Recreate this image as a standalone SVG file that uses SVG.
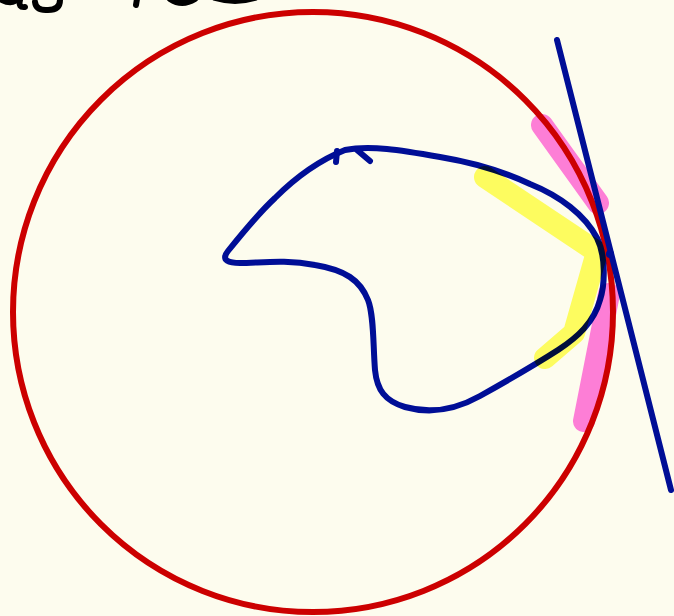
<svg xmlns="http://www.w3.org/2000/svg" width="674" height="616" viewBox="0 0 674 616">
<style>
.ink{fill:none;stroke-linecap:round;stroke-linejoin:round}
.blk{stroke:#000;stroke-width:6}
.red{stroke:#cc0000;stroke-width:6}
.blue{stroke:#000e96;stroke-width:6}
.hl{fill:none;stroke-linecap:round;stroke-linejoin:round;stroke-width:22;mix-blend-mode:multiply}
.yel{stroke:#ffff66}
.pink{stroke:#ff80e6}
</style>
<rect width="674" height="616" fill="#fdfcee"/>
<g id="handwriting-fragment">
<path class="ink blk" d="M2,0 Q10,4 15,1"/>
<path class="ink blk" d="M20,0 Q18,8 25,7"/>
<path class="ink blk" d="M35,2 Q36,11 48,10 Q60,10 60,0"/>
<path class="ink blk" d="M137,-1 L136,5"/>
<path class="ink blk" d="M170,-1 Q182,7 195,-1"/>
<path class="ink blk" d="M215,-2 Q235,4 255,-2"/>
</g>
<g id="circle">
<circle class="ink red" cx="313" cy="312" r="300"/>
</g>
<g id="curve">
<path class="ink blue" d="M345,150 C370,145 400,150 440,157 C470,162 500,170 530,184 C560,196 585,215 597,238 C606,256 605,285 600,300 C594,322 578,337 558,350 C530,368 505,382 480,396 C455,410 430,414 405,407 C385,401 377,390 375,370 C373,345 374,315 368,300 C360,280 345,270 315,265 C285,259 260,263 240,263 C230,263 220,261 228,251 C240,236 260,212 275,198 C295,178 320,160 345,150 Z"/>
<path class="ink blue" d="M337,151 L336,162 M357,150 L370,161"/>
</g>
<g id="highlights">
<path class="hl yel" d="M485,177 L597,252 L574,333 L545,358"/>
<path class="hl pink" d="M542,125 L598,203"/>
<path class="hl pink" d="M609,294 L584,421"/>
</g>
<g id="tangent">
<line class="ink blue" x1="557" y1="40" x2="671" y2="490"/>
<circle cx="610" cy="254" r="4" fill="#000e96"/>
</g>
</svg>
